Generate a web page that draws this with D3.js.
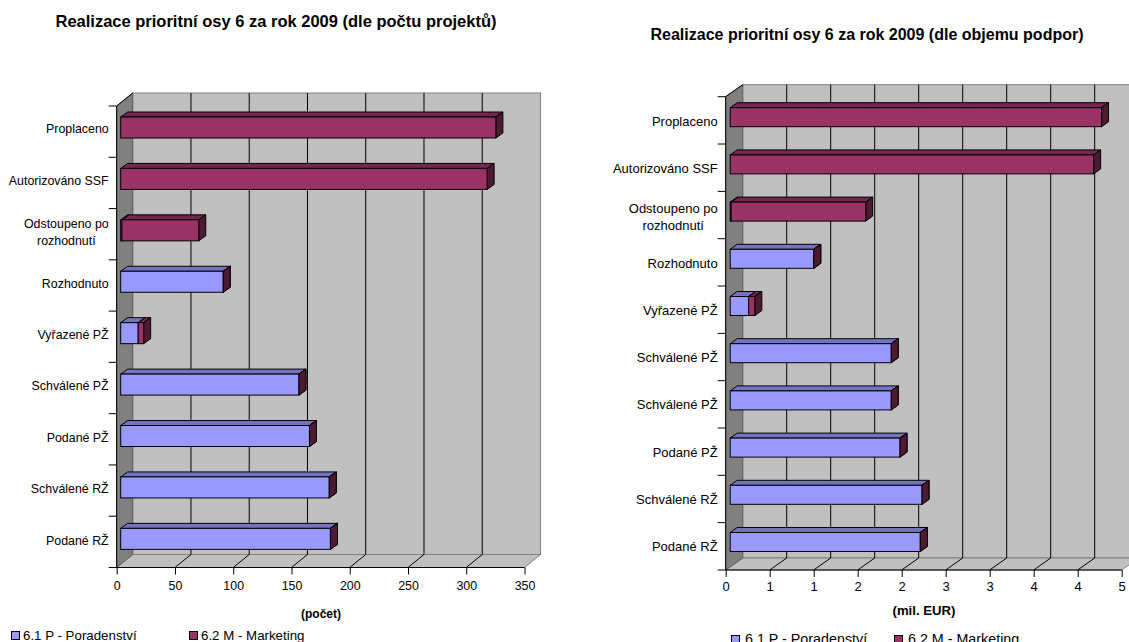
<!DOCTYPE html>
<html><head><meta charset="utf-8">
<script src="https://cdn.jsdelivr.net/npm/d3@7/dist/d3.min.js"></script>
<style>html,body{margin:0;padding:0;background:#fff;overflow:hidden}svg{display:block}text{font-family:"Liberation Sans",Arial,sans-serif;fill:#000}</style>
</head><body><svg id="c" width="1129" height="642"></svg>
<script>
const seriesNames = ["6.1 P - Poradenství", "6.2 M - Marketing"];
const catsLeft = ["Proplaceno","Autorizováno SSF","Odstoupeno po|rozhodnutí","Rozhodnuto","Vyřazené PŽ","Schválené PŽ","Podané PŽ","Schválené RŽ","Podané RŽ"];
const left61 = [0,0,1,88,15,153,162,179,180];
const left62 = [322,314.5,66,0,4.7,0,0,0,0];
const leftTicks = [0,50,100,150,200,250,300,350];
const catsRight = ["Proplaceno","Autorizováno SSF","Odstoupeno po|rozhodnutí","Rozhodnuto","Vyřazené PŽ","Schválené PŽ","Schválené PŽ","Podané PŽ","Schválené RŽ","Podané RŽ"];
const right61 = [0,0,0.01,0.95,0.21,1.83,1.83,1.93,2.18,2.16];
const right62 = [4.22,4.13,1.53,0,0.07,0,0,0,0,0];
const rightTicks = [0,0.5,1,1.5,2,2.5,3,3.5,4,4.5];
const rightTickLabels = ["0","1","1","2","2","3","3","4","4","5"];

const svg = d3.select("#c");
const pal = [{f:"#9999ff",t:"#7373bf"},{f:"#993366",t:"#732650",s:"#4d1a33"}];

function chart(o){
  const g = svg.append("g");
  const {x0,x1,top,bot,dx,dy} = o;
  const n = o.cats.length;
  const x = d3.scaleLinear().domain(o.xDomain).range([x0,x1]);
  const y = d3.scaleBand().domain(d3.range(n)).range([top,bot]);
  const yb = d3.scaleBand().domain(d3.range(n)).range([top,top+n*o.barStep]);
  const wallR = x1+dx;
  g.append("rect").attr("x",x0+dx).attr("y",top-dy).attr("width",wallR-x0-dx).attr("height",bot-top)
    .attr("fill","#c0c0c0").attr("stroke","#808080");
  g.append("polygon").attr("points",[[x0,bot],[x0+dx,bot-dy],[wallR,bot-dy],[x1,bot]].join(" "))
    .attr("fill","#c0c0c0").attr("stroke","#808080");
  g.append("polygon").attr("points",[[x0,top],[x0+dx,top-dy],[x0+dx,bot-dy],[x0,bot]].join(" "))
    .attr("fill","#808080").attr("stroke","#606060");
  const gt = o.ticks.slice(1,-1);
  g.selectAll(".gv").data(gt).join("line").attr("x1",d=>x(d)+dx).attr("x2",d=>x(d)+dx)
    .attr("y1",top-dy).attr("y2",bot-dy).attr("stroke","#000");
  g.selectAll(".gd").data(gt).join("line").attr("x1",d=>x(d)).attr("x2",d=>x(d)+dx)
    .attr("y1",bot).attr("y2",bot-dy).attr("stroke","#000");
  g.append("line").attr("x1",x0).attr("x2",x0).attr("y1",top).attr("y2",bot).attr("stroke","#000");
  g.append("line").attr("x1",x0).attr("x2",x1).attr("y1",bot).attr("y2",bot).attr("stroke","#000");
  g.append("line").attr("x1",x0).attr("x2",x0+dx).attr("y1",top).attr("y2",top-dy).attr("stroke","#000");
  const edges = d3.range(n+1).map(i=>top+i*y.step());
  g.selectAll(".ty").data(edges).join("line").attr("x1",x0-8).attr("x2",x0).attr("y1",d=>d).attr("y2",d=>d).attr("stroke","#000");
  const ax = g.append("g").attr("transform",`translate(0,${bot})`)
    .call(d3.axisBottom(x).tickValues(o.ticks).tickFormat(o.fmt).tickSize(7).tickPadding(o.tickPad));
  ax.select(".domain").remove();
  ax.selectAll("text").attr("font-size",o.fs).style("font-family",'"Liberation Sans",Arial,sans-serif');
  const bars = g.selectAll(".b").data(d3.range(n)).join("g");
  bars.each(function(i){
    let start = 0;
    const vals = [o.a[i],o.b[i]];
    const sel = d3.select(this);
    const yt = yb(i)+o.barOff, h = o.barH;
    vals.forEach((v,k)=>{
      const xa = x(start)+o.bx, xb = x(start+v)+o.bx;
      const p = pal[k];
      if(k===0 && v===0) return;
      sel.append("polygon").attr("points",[[xa,yt],[xa+o.bdx,yt-o.bdy],[xb+o.bdx,yt-o.bdy],[xb,yt]].join(" "))
        .attr("fill",p.t).attr("stroke","#000");
      sel.append("polygon").attr("points",[[xb,yt],[xb+o.bdx,yt-o.bdy],[xb+o.bdx,yt+h-o.bdy],[xb,yt+h]].join(" "))
        .attr("fill",pal[1].s).attr("stroke","#000");
      sel.append("rect").attr("x",xa).attr("y",yt).attr("width",xb-xa).attr("height",h)
        .attr("fill",p.f).attr("stroke","#000");
      start+=v;
    });
  });
  o.cats.forEach((c,i)=>{
    const cy = yb(i)+o.labelOff;
    const lines = c.split("|");
    if(lines.length===1){
      g.append("text").attr("x",x0-8).attr("y",cy).attr("text-anchor","end").attr("dy","0.35em").attr("font-size",o.fs).text(c);
    } else {
      const w = g.append("text").attr("x",x0-8).attr("y",cy-8).attr("text-anchor","end").attr("dy","0.35em").attr("font-size",o.fs).text(lines[0]);
      const bb = w.node().getBBox();
      g.append("text").attr("x",bb.x+bb.width/2).attr("y",cy+9).attr("text-anchor","middle").attr("dy","0.35em").attr("font-size",o.fs).text(lines[1]);
    }
  });
  g.append("text").attr("x",o.titleX).attr("y",o.titleY).attr("text-anchor","middle").attr("font-size",o.titleFs).attr("font-weight","bold").text(o.title);
  g.append("text").attr("x",o.unitX).attr("y",o.unitY).attr("text-anchor","middle").attr("font-size",o.unitFs).attr("font-weight","bold").text(o.unit);
  seriesNames.forEach((s,k)=>{
    g.append("rect").attr("x",o.legX[k]+.5).attr("y",o.legBoxY).attr("width",8).attr("height",8).attr("fill",pal[k].f).attr("stroke","#000");
    g.append("text").attr("x",o.legX[k]+o.legGap).attr("y",o.legY).attr("font-size",o.legFs).text(s);
  });
}

chart({x0:116.7,x1:524.5,top:106,bot:567.5,dx:16,dy:13,xDomain:[0,350],ticks:leftTicks,fmt:d3.format("d"),tickPad:7,
  cats:catsLeft,a:left61,b:left62,barStep:51.42,barOff:11,barH:21,bx:4,bdx:7,bdy:5,labelOff:23,fs:12.4,
  title:"Realizace prioritní osy 6 za rok 2009 (dle počtu projektů)",titleX:276,titleY:27,titleFs:16.5,
  unit:"(počet)",unitX:321,unitY:618,unitFs:12,legX:[11,189],legBoxY:631.5,legY:640,legFs:13.3,legGap:12});

chart({x0:725.7,x1:1121.7,top:96.7,bot:570,dx:17,dy:12,xDomain:[0,4.5],ticks:rightTicks,fmt:(d,i)=>rightTickLabels[i],tickPad:5,
  cats:catsRight,a:right61,b:right62,barStep:47.2,barOff:11,barH:19,bx:4.5,bdx:7,bdy:5,labelOff:25,fs:13,
  title:"Realizace prioritní osy 6 za rok 2009 (dle objemu podpor)",titleX:867,titleY:40,titleFs:16,
  unit:"(mil. EUR)",unitX:924,unitY:615,unitFs:13.2,legX:[731,894],legBoxY:635.5,legY:644,legFs:14.3,legGap:14});
</script></body></html>
